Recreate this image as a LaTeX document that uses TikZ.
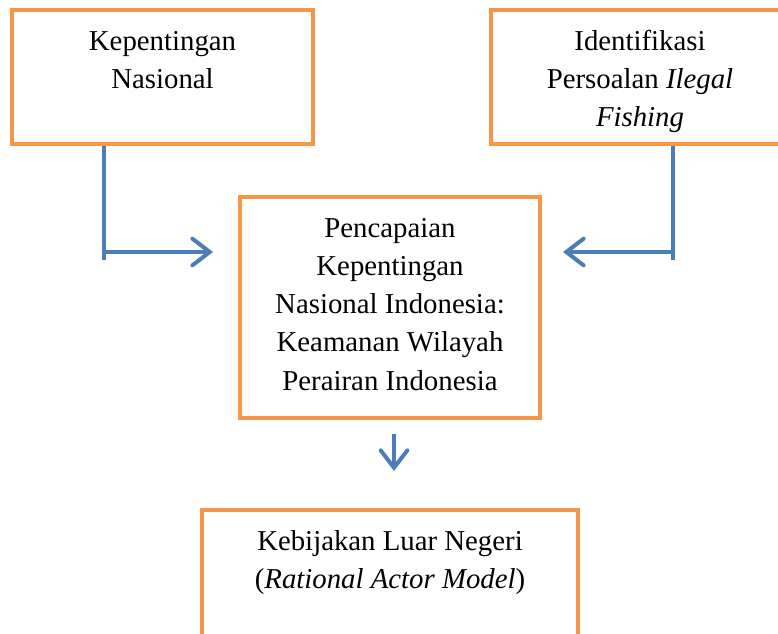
\documentclass[tikz,border=0pt]{standalone}
\usepackage{fontspec}
\setmainfont{Liberation Serif}
\usetikzlibrary{arrows.meta}

\definecolor{oranye}{RGB}{247,150,70}
\definecolor{biru}{RGB}{74,126,187}

\newcommand{\isikotak}[3]{\parbox[c][#2][t]{#1}{\centering\vspace*{10pt}\strut #3}}

\tikzset{
  kotak/.style={draw=oranye, line width=3pt, inner sep=0pt, font=\fontsize{21.6pt}{28.7pt}\selectfont},
  garis/.style={draw=biru, line width=3pt},
  panah/.style={garis, -{Straight Barb[length=13pt,width=20pt,line cap=round]}}
}

\begin{document}
\begin{tikzpicture}[x=0.75pt,y=-0.75pt]

	\useasboundingbox (0,0) rectangle (778,634);
	\clip (0,0) rectangle (778,634);

	\node[kotak] (kepentingan) at (162.5,77) {\isikotak{225.75pt}{100.5pt}{Kepentingan\\Nasional}};
	\node[kotak] (identifikasi) at (640,77) {\isikotak{223.5pt}{100.5pt}{Identifikasi\\Persoalan \textit{Ilegal}\\\textit{Fishing}}};
	\node[kotak] (pencapaian) at (390,307.5) {\isikotak{225pt}{165.75pt}{Pencapaian\\Kepentingan\\Nasional Indonesia:\\Keamanan Wilayah\\Perairan Indonesia}};
	\node[kotak] (kebijakan) at (390,595) {\isikotak{282pt}{127.5pt}{Kebijakan Luar Negeri\\(\textit{Rational Actor Model})}};

	\coordinate (ujungkiri) at (104,260);
	\coordinate (sikukiri) at (104,252);
	\coordinate (tujuankiri) at (213,252);
	\coordinate (ujungkanan) at (673,260);
	\coordinate (sikukanan) at (673,252);
	\coordinate (tujuankanan) at (563,252);

	\draw[garis] (kepentingan.south -| ujungkiri) -- (ujungkiri);
	\draw[panah] (sikukiri) -- (tujuankiri);
	\draw[garis] (identifikasi.south -| ujungkanan) -- (ujungkanan);
	\draw[panah] (sikukanan) -- (tujuankanan);

	\draw[panah] ([yshift=-10.5pt,xshift=3pt]pencapaian.south) -- ([yshift=27.75pt,xshift=3pt]kebijakan.north);

\end{tikzpicture}
\end{document}
